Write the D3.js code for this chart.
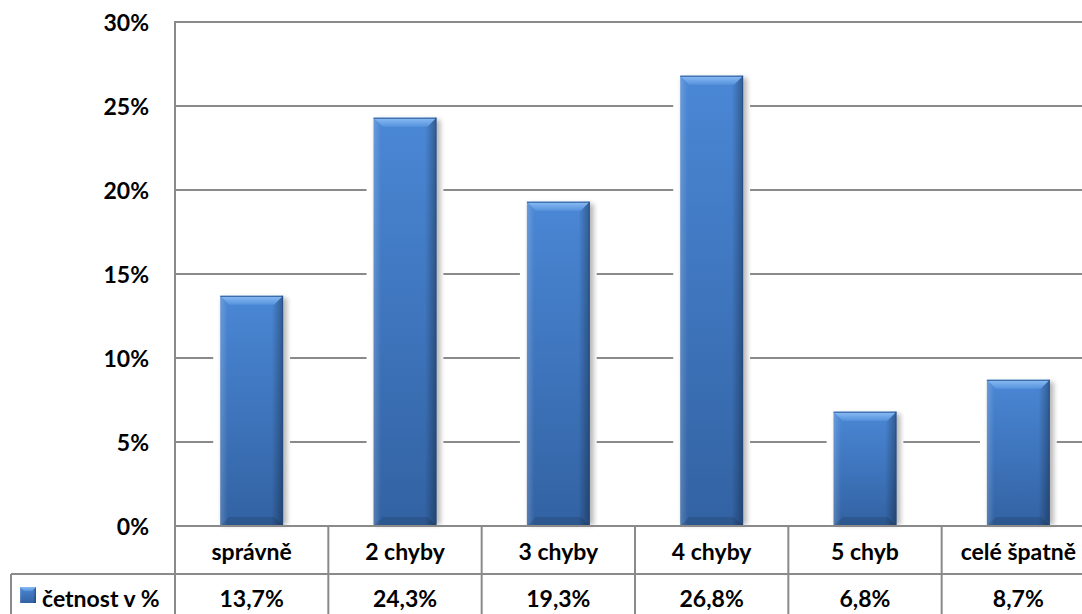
<!DOCTYPE html>
<html>
<head>
<meta charset="utf-8">
<script src="https://cdn.jsdelivr.net/npm/d3@7"></script>
<style>
  html, body { margin: 0; padding: 0; background: #fff; }
  svg { display: block; }
  text { font-family: Lato, "Open Sans", sans-serif; font-weight: bold; fill: #000; }
</style>
</head>
<body>
<svg id="chart" width="1082" height="614"></svg>
<script>
// Chart data
const categories = ["správně", "2 chyby", "3 chyby", "4 chyby", "5 chyb", "celé špatně"];
const values = [13.7, 24.3, 19.3, 26.8, 6.8, 8.7];   // četnost v %
const seriesName = "četnost v %";
const yTicks = [0, 5, 10, 15, 20, 25, 30];

const svg = d3.select("#chart");
const W = 1082, H = 614;

// Layout
const plotLeft = 175, plotRight = 1095, plotTop = 22, plotBottom = 526;
const rowH = 48;
const legendLeft = 11;
const fontSize = 23;

const y = d3.scaleLinear().domain([0, 30]).range([plotBottom, plotTop]);
const xCol = d3.scaleBand().domain(categories).range([plotLeft, plotRight]).padding(0);
const xBar = d3.scaleBand().domain(categories).range([plotLeft, plotRight])
  .paddingInner(0.59).paddingOuter(0.295);

const czLocale = d3.formatLocale({ decimal: ",", thousands: " ", grouping: [3], currency: ["", " Kč"] });
const fmtVal = v => czLocale.format(".1f")(v) + "%";
const fmtTick = v => v + "%";

// Gradients and filters
const defs = svg.append("defs");
const body = defs.append("linearGradient").attr("id", "barBody").attr("x1", 0).attr("y1", 0).attr("x2", 0).attr("y2", 1);
body.append("stop").attr("offset", "0%").attr("stop-color", "#4a87d5");
body.append("stop").attr("offset", "55%").attr("stop-color", "#3d73ba");
body.append("stop").attr("offset", "100%").attr("stop-color", "#3262a2");

const side = defs.append("linearGradient").attr("id", "barSide").attr("x1", 0).attr("y1", 0).attr("x2", 1).attr("y2", 0);
side.append("stop").attr("offset", "0%").attr("stop-color", "#ffffff").attr("stop-opacity", 0.18);
side.append("stop").attr("offset", "12%").attr("stop-color", "#ffffff").attr("stop-opacity", 0.0);
side.append("stop").attr("offset", "82%").attr("stop-color", "#000000").attr("stop-opacity", 0.0);
side.append("stop").attr("offset", "100%").attr("stop-color", "#000000").attr("stop-opacity", 0.32);

const topBev = defs.append("linearGradient").attr("id", "barTop").attr("x1", 0).attr("y1", 0).attr("x2", 0).attr("y2", 1);
topBev.append("stop").attr("offset", "0%").attr("stop-color", "#8cbdf5");
topBev.append("stop").attr("offset", "100%").attr("stop-color", "#5592dc");

const shadowF = defs.append("filter").attr("id", "soft").attr("x", "-30%").attr("y", "-10%").attr("width", "160%").attr("height", "130%");
shadowF.append("feGaussianBlur").attr("stdDeviation", 2.5);

// Gridlines
const gridColor = "#8a8a8a";
svg.append("g").selectAll("line").data(yTicks).join("line")
  .attr("x1", plotLeft).attr("x2", W)
  .attr("y1", d => y(d)).attr("y2", d => y(d))
  .attr("stroke", gridColor).attr("stroke-width", 2);

// Y tick labels
svg.append("g").selectAll("text").data(yTicks).join("text")
  .attr("x", 149).attr("y", d => y(d))
  .attr("text-anchor", "end").attr("dominant-baseline", "central")
  .style("font-size", fontSize + "px")
  .text(fmtTick);

// Bars
const bev = 9;
const bars = svg.append("g").selectAll("g").data(categories).join("g");
bars.each(function (c, i) {
  const g = d3.select(this);
  const x0 = xBar(c), w = xBar.bandwidth();
  const yt = y(values[i]), yb = y(0), h = yb - yt;
  g.append("rect").attr("x", x0 - 7).attr("y", yt).attr("width", w + 14).attr("height", h - 1).attr("fill", "#fff");
  g.append("rect").attr("x", x0 + 2).attr("y", yt + 2).attr("width", w + 2).attr("height", h - 3)
    .attr("fill", "#000").attr("opacity", 0.28).attr("filter", "url(#soft)");
  g.append("rect").attr("x", x0).attr("y", yt).attr("width", w).attr("height", h).attr("fill", "url(#barBody)");
  g.append("rect").attr("x", x0).attr("y", yt).attr("width", w).attr("height", h).attr("fill", "url(#barSide)");
  g.append("polygon")
    .attr("points", [[x0, yt], [x0 + w, yt], [x0 + w - bev, yt + bev], [x0 + bev, yt + bev]].join(" "))
    .attr("fill", "url(#barTop)");
  g.append("polygon")
    .attr("points", [[x0, yb], [x0 + w, yb], [x0 + w - bev, yb - bev], [x0 + bev, yb - bev]].join(" "))
    .attr("fill", "#000").attr("opacity", 0.12);
  g.append("line").attr("x1", x0).attr("x2", x0 + w).attr("y1", yt + 0.5).attr("y2", yt + 0.5)
    .attr("stroke", "#2d5c9a").attr("stroke-width", 1);
  g.append("line").attr("x1", x0 + w - 0.5).attr("x2", x0 + w - 0.5).attr("y1", yt).attr("y2", yb)
    .attr("stroke", "#234a80").attr("stroke-width", 1).attr("opacity", 0.7);
});

// Data table
const tbl = svg.append("g");
const row1 = plotBottom + rowH;
const row2 = row1 + rowH;
tbl.append("line").attr("x1", plotLeft).attr("x2", W).attr("y1", plotBottom).attr("y2", plotBottom)
  .attr("stroke", gridColor).attr("stroke-width", 2);
tbl.append("line").attr("x1", legendLeft).attr("x2", W).attr("y1", row1).attr("y2", row1)
  .attr("stroke", gridColor).attr("stroke-width", 2);
tbl.append("line").attr("x1", legendLeft).attr("x2", W).attr("y1", row2).attr("y2", row2)
  .attr("stroke", gridColor).attr("stroke-width", 2);
tbl.append("line").attr("x1", plotLeft).attr("x2", plotLeft).attr("y1", plotTop - 1).attr("y2", row2)
  .attr("stroke", gridColor).attr("stroke-width", 2);
tbl.append("line").attr("x1", legendLeft).attr("x2", legendLeft).attr("y1", row1).attr("y2", row2)
  .attr("stroke", gridColor).attr("stroke-width", 2);
tbl.selectAll("line.col").data(categories.slice(1)).join("line").attr("class", "col")
  .attr("x1", d => xCol(d)).attr("x2", d => xCol(d))
  .attr("y1", plotBottom).attr("y2", row2)
  .attr("stroke", gridColor).attr("stroke-width", 2);

tbl.selectAll("text.cat").data(categories).join("text").attr("class", "cat")
  .attr("x", d => xCol(d) + xCol.bandwidth() / 2).attr("y", (plotBottom + row1) / 2 + 1)
  .attr("text-anchor", "middle").attr("dominant-baseline", "central")
  .style("font-size", fontSize + "px").text(d => d);

tbl.selectAll("text.val").data(values).join("text").attr("class", "val")
  .attr("x", (d, i) => xCol(categories[i]) + xCol.bandwidth() / 2).attr("y", (row1 + row2) / 2)
  .attr("text-anchor", "middle").attr("dominant-baseline", "central")
  .style("font-size", fontSize + "px").text(fmtVal);

// Legend key
const key = tbl.append("g").attr("transform", `translate(20,${(row1 + row2) / 2 - 11})`);
key.append("rect").attr("width", 16).attr("height", 16).attr("fill", "url(#barBody)");
key.append("rect").attr("width", 16).attr("height", 16).attr("fill", "url(#barSide)");
key.append("polygon").attr("points", "0,0 16,0 12,4 4,4").attr("fill", "url(#barTop)");
tbl.append("text").attr("x", 42).attr("y", (row1 + row2) / 2)
  .attr("dominant-baseline", "central")
  .style("font-size", fontSize + "px").text(seriesName);
</script>
</body>
</html>
